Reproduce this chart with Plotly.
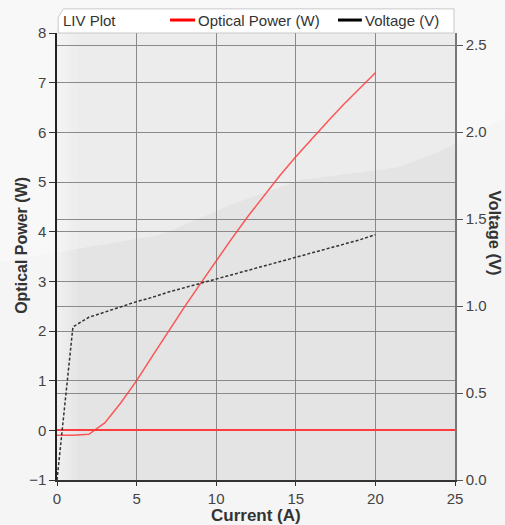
import plotly.graph_objects as go

# ---- data ----
current_a = [0, 1, 2, 3, 4, 5, 6, 7, 8, 9, 10, 11, 12, 13, 14, 15, 16, 17, 18, 19, 20]
optical_power_w = [-0.1, -0.1, -0.08, 0.15, 0.55, 1.0, 1.5, 2.0, 2.48, 2.95, 3.42,
                   3.87, 4.31, 4.73, 5.13, 5.51, 5.87, 6.22, 6.56, 6.88, 7.2]
voltage_v = [0.0, 0.88, 0.935, 0.965, 0.995, 1.025, 1.05, 1.08, 1.105, 1.13, 1.155,
             1.18, 1.205, 1.23, 1.255, 1.28, 1.305, 1.33, 1.355, 1.38, 1.41]

x_ticks = [0, 5, 10, 15, 20, 25]
y_left_ticks = [-1, 0, 1, 2, 3, 4, 5, 6, 7, 8]
y_right_ticks = [0.0, 0.5, 1.0, 1.5, 2.0, 2.5]

series_names = ["Optical Power (W)", "Voltage (V)"]
legend_colors = ["#ff0000", "#000000"]

FONT = "Liberation Sans, Arial, sans-serif"
TICKC = "#444444"
TITLEC = "#333333"
TICKSIZE = 15

fig = go.Figure()

fig.add_trace(go.Scatter(x=current_a, y=optical_power_w, mode="lines",
                         name=series_names[0],
                         line=dict(color="rgba(255,60,60,0.85)", width=1.5),
                         showlegend=False, yaxis="y"))
fig.add_trace(go.Scatter(x=current_a, y=voltage_v, mode="lines",
                         name=series_names[1],
                         line=dict(color="#333333", width=1.5, dash="3px,2px"),
                         showlegend=False, yaxis="y2"))

shapes = []
# glossy lighter region (upper part)
shine = "M -0.2,0.48 L -0.143,0.488 L 0.259,0.548 L 0.45,0.62 L 0.611,0.671 L 0.862,0.700 " \
        "L 0.970,0.738 L 1.126,0.810 L 1.2,0.83 L 1.2,1.2 L -0.2,1.2 Z"
shapes.append(dict(type="path", xref="paper", yref="paper", path=shine,
                   fillcolor="rgba(255,255,255,0.3)", line=dict(width=0), layer="below"))
# left edge gradient inside plot
for w in [0.012, 0.024, 0.036, 0.05]:
    shapes.append(dict(type="rect", xref="paper", yref="paper", x0=0, x1=w, y0=0, y1=1,
                       fillcolor="rgba(255,255,255,0.14)", line=dict(width=0), layer="below"))
# legend/title box with chamfered corner
box = "M 0.003,1.0 L 0.003,1.035 L 0.016,1.054 L 0.9975,1.054 L 0.9975,1.0 Z"
shapes.append(dict(type="path", xref="paper", yref="paper", path=box,
                   fillcolor="white", line=dict(color="#c8c8c8", width=1), layer="below"))

# manual legend (samples + labels)
LEG_Y = 1.029
legend_sample_x = [(0.284, 0.347), (0.706, 0.766)]
legend_text_x = [0.350, 0.770]
for (x0, x1), col in zip(legend_sample_x, legend_colors):
    shapes.append(dict(type="line", xref="paper", yref="paper", x0=x0, x1=x1,
                       y0=LEG_Y, y1=LEG_Y, line=dict(color=col, width=3)))

annotations = [
    dict(text="LIV Plot", xref="paper", yref="paper", x=0.011, y=LEG_Y, xanchor="left",
         yanchor="middle", showarrow=False, font=dict(family=FONT, size=15, color="#333")),
    dict(text="<b>Optical Power (W)</b>", xref="paper", yref="paper", x=-0.088, y=0.526,
         xanchor="center", yanchor="middle",
         textangle=-90, showarrow=False, font=dict(family=FONT, size=16, color=TITLEC)),
    dict(text="<b>Voltage (V)</b>", xref="paper", yref="paper", x=1.101, y=0.553,
         xanchor="center", yanchor="middle",
         textangle=90, showarrow=False, font=dict(family=FONT, size=16.5, color=TITLEC)),
    dict(text="<b>Current (A)</b>", xref="paper", yref="paper", x=0.5, y=-0.079,
         xanchor="center", yanchor="middle",
         showarrow=False, font=dict(family=FONT, size=17, color=TITLEC)),
]
for name, tx in zip(series_names, legend_text_x):
    annotations.append(dict(text=name, xref="paper", yref="paper", x=tx, y=LEG_Y,
                            xanchor="left", yanchor="middle", showarrow=False,
                            font=dict(family=FONT, size=15, color="#333")))

fig.update_layout(
    width=505, height=525, autosize=False,
    margin=dict(l=57, r=50, t=33, b=45, autoexpand=False),
    paper_bgcolor="#f5f5f5", plot_bgcolor="#e4e4e4",
    font=dict(family=FONT, size=TICKSIZE, color=TICKC),
    showlegend=False,
    xaxis=dict(range=[0, 25], tickvals=x_ticks, showgrid=True, gridcolor="#8a8a8a",
               gridwidth=1, zeroline=False, showline=True, linecolor="#333", linewidth=1.5,
               ticks="outside", ticklen=4, tickcolor="#333",
               tickfont=dict(size=TICKSIZE, color=TICKC)),
    yaxis=dict(range=[-1, 8], tickvals=y_left_ticks, showgrid=True, gridcolor="#8a8a8a",
               gridwidth=1, zeroline=True, zerolinecolor="#ff3b3b", zerolinewidth=1.5,
               showline=True, linecolor="#222", linewidth=1.5, ticks="outside", ticklen=6,
               tickcolor="#333", tickfont=dict(size=TICKSIZE, color=TICKC)),
    yaxis2=dict(range=[0, 2.569], tickvals=y_right_ticks, tickformat=".1f", overlaying="y",
                side="right", showgrid=True, gridcolor="#8a8a8a", gridwidth=1, zeroline=False,
                showline=True, linecolor="#777", linewidth=1.5, ticks="outside", ticklen=6,
                tickcolor="#555", tickfont=dict(size=TICKSIZE, color=TICKC)),
    shapes=shapes, annotations=annotations,
)

fig.write_html("out.html", config={"displayModeBar": False},
               post_script="document.body.style.margin='0';")
